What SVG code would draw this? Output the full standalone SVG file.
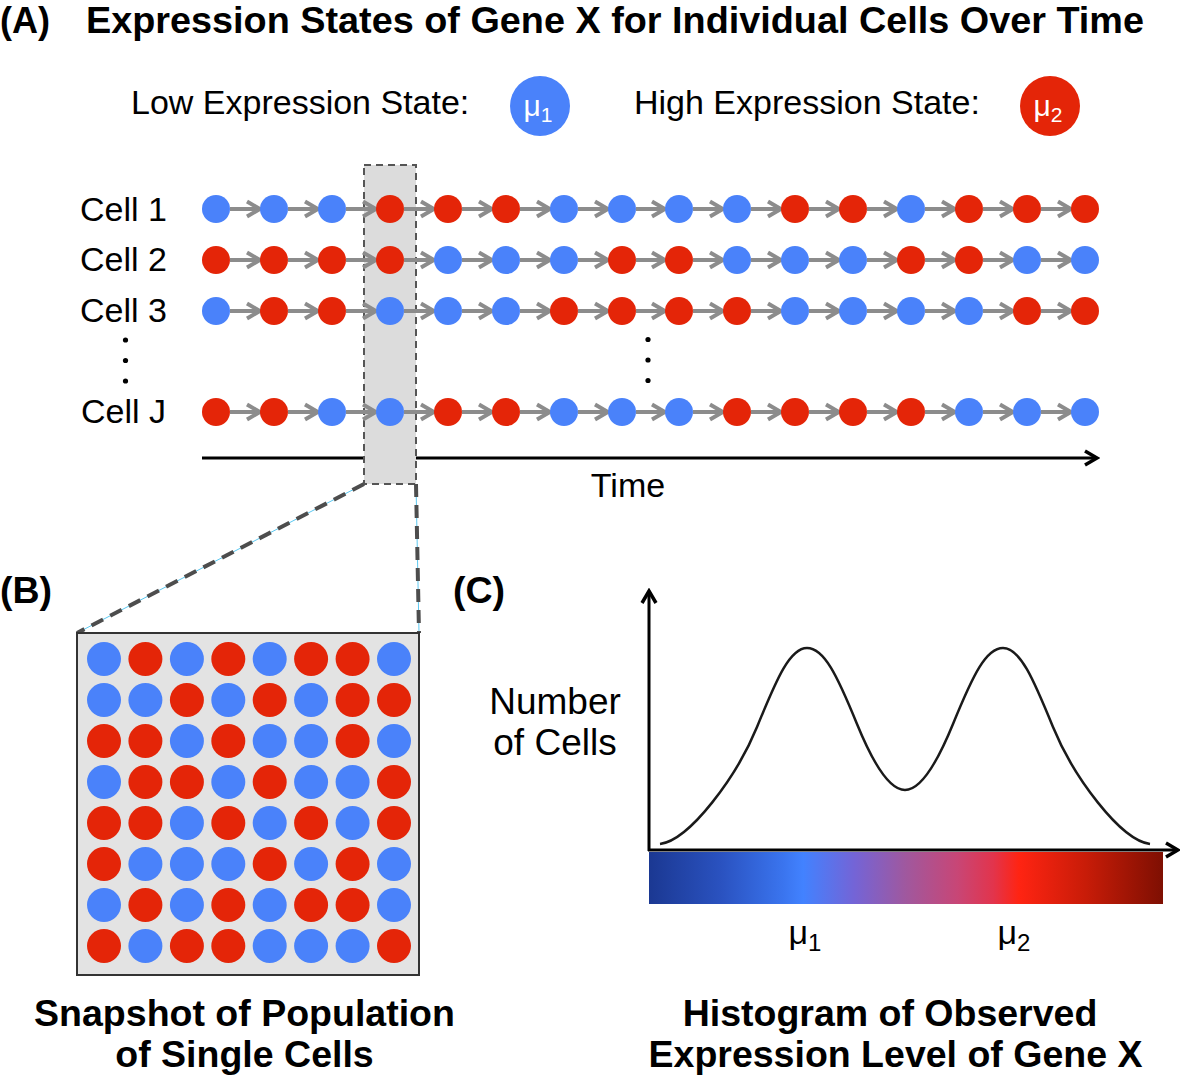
<svg xmlns="http://www.w3.org/2000/svg" width="1180" height="1076" viewBox="0 0 1180 1076">
<style>
text{font-family:"Liberation Sans",Arial,sans-serif;fill:#000}
.bold{font-weight:bold;font-size:37.5px}
.reg{font-size:34px}
.b{fill:#4a82fa}
.r{fill:#e42508}
.arr{stroke:#8c8c8c;stroke-width:4;marker-end:url(#chev)}
.dash{stroke:#4d4d4d;stroke-width:4;stroke-dasharray:13 8;fill:none}
.cyan{stroke:#5cc8f0;stroke-width:1;fill:none}
</style>
<defs>
<marker id="chev" markerUnits="userSpaceOnUse" markerWidth="18" markerHeight="20" refX="15" refY="10" orient="auto" viewBox="0 0 18 20">
<path d="M2,2.5 L15,10 L2,17.5" fill="none" stroke="#8c8c8c" stroke-width="4"/>
</marker>
<marker id="blk" markerUnits="userSpaceOnUse" markerWidth="18" markerHeight="20" refX="15" refY="10" orient="auto" viewBox="0 0 18 20">
<path d="M3,3 L15,10 L3,17" fill="none" stroke="#000" stroke-width="3.5"/>
</marker>
<linearGradient id="grad" x1="0" y1="0" x2="1" y2="0">
<stop offset="0" stop-color="#1b3892"/>
<stop offset="0.14" stop-color="#2a52c0"/>
<stop offset="0.26" stop-color="#3a74ee"/>
<stop offset="0.3" stop-color="#4282ff"/>
<stop offset="0.4" stop-color="#7464d6"/>
<stop offset="0.5" stop-color="#a0589e"/>
<stop offset="0.6" stop-color="#c84676"/>
<stop offset="0.67" stop-color="#e2344c"/>
<stop offset="0.72" stop-color="#ff2412"/>
<stop offset="0.85" stop-color="#c81c08"/>
<stop offset="1" stop-color="#7e0f02"/>
</linearGradient>
</defs>

<g id="title-A">
<text class="bold" x="0" y="33" style="font-size:36px">(A)</text>
<text class="bold" x="86" y="33" style="font-size:36px" textLength="1058" lengthAdjust="spacingAndGlyphs">Expression States of Gene X for Individual Cells Over Time</text>
</g>

<g id="legend-low">
<text class="reg" x="131" y="114">Low Expression State:</text>
<circle class="b" cx="540" cy="106" r="30"/>
<text x="538" y="116" text-anchor="middle" style="font-size:30px;fill:#fff">μ<tspan style="font-size:21px;fill:#fff" dy="6">1</tspan></text>
</g>
<g id="legend-high">
<text class="reg" x="634" y="114">High Expression State:</text>
<circle class="r" cx="1050" cy="106" r="30"/>
<text x="1048" y="116" text-anchor="middle" style="font-size:30px;fill:#fff">μ<tspan style="font-size:21px;fill:#fff" dy="6">2</tspan></text>
</g>

<g id="time-axis">
<line x1="202" y1="458" x2="1097" y2="458" stroke="#000" stroke-width="3" marker-end="url(#blk)"/>
<text class="reg" x="628" y="497" text-anchor="middle">Time</text>
</g>

<g id="snapshot-window">
<rect x="364" y="165" width="52" height="319" fill="#dcdcdc" stroke="#555" stroke-width="2" stroke-dasharray="7 5"/>
</g>

<g id="cell-labels">
<text class="reg" x="80" y="221">Cell 1</text>
<text class="reg" x="80" y="271">Cell 2</text>
<text class="reg" x="80" y="322">Cell 3</text>
<text class="reg" x="81" y="423">Cell J</text>
<circle cx="125.5" cy="340" r="2.6" fill="#000"/>
<circle cx="125.5" cy="360.5" r="2.6" fill="#000"/>
<circle cx="125.5" cy="381" r="2.6" fill="#000"/>
<circle cx="648" cy="339.5" r="2.6" fill="#000"/>
<circle cx="648" cy="360" r="2.6" fill="#000"/>
<circle cx="648" cy="380.5" r="2.6" fill="#000"/>
</g>

<g id="connectors">
<g id="arrows-cell1">
<line class="arr" x1="230" y1="209" x2="260" y2="209"/><line class="arr" x1="288" y1="209" x2="318" y2="209"/><line class="arr" x1="346" y1="209" x2="376" y2="209"/><line class="arr" x1="404" y1="209" x2="434" y2="209"/><line class="arr" x1="462" y1="209" x2="492" y2="209"/><line class="arr" x1="520" y1="209" x2="550" y2="209"/><line class="arr" x1="578" y1="209" x2="608" y2="209"/><line class="arr" x1="636" y1="209" x2="665" y2="209"/><line class="arr" x1="693" y1="209" x2="723" y2="209"/><line class="arr" x1="751" y1="209" x2="781" y2="209"/><line class="arr" x1="809" y1="209" x2="839" y2="209"/><line class="arr" x1="867" y1="209" x2="897" y2="209"/><line class="arr" x1="925" y1="209" x2="955" y2="209"/><line class="arr" x1="983" y1="209" x2="1013" y2="209"/><line class="arr" x1="1041" y1="209" x2="1071" y2="209"/>
</g>
<g id="arrows-cell2">
<line class="arr" x1="230" y1="260" x2="260" y2="260"/><line class="arr" x1="288" y1="260" x2="318" y2="260"/><line class="arr" x1="346" y1="260" x2="376" y2="260"/><line class="arr" x1="404" y1="260" x2="434" y2="260"/><line class="arr" x1="462" y1="260" x2="492" y2="260"/><line class="arr" x1="520" y1="260" x2="550" y2="260"/><line class="arr" x1="578" y1="260" x2="608" y2="260"/><line class="arr" x1="636" y1="260" x2="665" y2="260"/><line class="arr" x1="693" y1="260" x2="723" y2="260"/><line class="arr" x1="751" y1="260" x2="781" y2="260"/><line class="arr" x1="809" y1="260" x2="839" y2="260"/><line class="arr" x1="867" y1="260" x2="897" y2="260"/><line class="arr" x1="925" y1="260" x2="955" y2="260"/><line class="arr" x1="983" y1="260" x2="1013" y2="260"/><line class="arr" x1="1041" y1="260" x2="1071" y2="260"/>
</g>
<g id="arrows-cell3">
<line class="arr" x1="230" y1="311" x2="260" y2="311"/><line class="arr" x1="288" y1="311" x2="318" y2="311"/><line class="arr" x1="346" y1="311" x2="376" y2="311"/><line class="arr" x1="404" y1="311" x2="434" y2="311"/><line class="arr" x1="462" y1="311" x2="492" y2="311"/><line class="arr" x1="520" y1="311" x2="550" y2="311"/><line class="arr" x1="578" y1="311" x2="608" y2="311"/><line class="arr" x1="636" y1="311" x2="665" y2="311"/><line class="arr" x1="693" y1="311" x2="723" y2="311"/><line class="arr" x1="751" y1="311" x2="781" y2="311"/><line class="arr" x1="809" y1="311" x2="839" y2="311"/><line class="arr" x1="867" y1="311" x2="897" y2="311"/><line class="arr" x1="925" y1="311" x2="955" y2="311"/><line class="arr" x1="983" y1="311" x2="1013" y2="311"/><line class="arr" x1="1041" y1="311" x2="1071" y2="311"/>
</g>
<g id="arrows-cellJ">
<line class="arr" x1="230" y1="412" x2="260" y2="412"/><line class="arr" x1="288" y1="412" x2="318" y2="412"/><line class="arr" x1="346" y1="412" x2="376" y2="412"/><line class="arr" x1="404" y1="412" x2="434" y2="412"/><line class="arr" x1="462" y1="412" x2="492" y2="412"/><line class="arr" x1="520" y1="412" x2="550" y2="412"/><line class="arr" x1="578" y1="412" x2="608" y2="412"/><line class="arr" x1="636" y1="412" x2="665" y2="412"/><line class="arr" x1="693" y1="412" x2="723" y2="412"/><line class="arr" x1="751" y1="412" x2="781" y2="412"/><line class="arr" x1="809" y1="412" x2="839" y2="412"/><line class="arr" x1="867" y1="412" x2="897" y2="412"/><line class="arr" x1="925" y1="412" x2="955" y2="412"/><line class="arr" x1="983" y1="412" x2="1013" y2="412"/><line class="arr" x1="1041" y1="412" x2="1071" y2="412"/>
</g>
<g id="zoom-lines">
<line class="cyan" x1="364" y1="484" x2="77" y2="633"/>
<line class="cyan" x1="416" y1="484" x2="419" y2="633"/>
<line class="dash" x1="364" y1="484" x2="77" y2="633"/>
<line class="dash" x1="416" y1="484" x2="419" y2="633"/>
</g>
</g>

<g id="cell1">
<circle class="b" cx="216" cy="209" r="14"/><circle class="b" cx="274" cy="209" r="14"/><circle class="b" cx="332" cy="209" r="14"/><circle class="r" cx="390" cy="209" r="14"/><circle class="r" cx="448" cy="209" r="14"/><circle class="r" cx="506" cy="209" r="14"/><circle class="b" cx="564" cy="209" r="14"/><circle class="b" cx="622" cy="209" r="14"/><circle class="b" cx="679" cy="209" r="14"/><circle class="b" cx="737" cy="209" r="14"/><circle class="r" cx="795" cy="209" r="14"/><circle class="r" cx="853" cy="209" r="14"/><circle class="b" cx="911" cy="209" r="14"/><circle class="r" cx="969" cy="209" r="14"/><circle class="r" cx="1027" cy="209" r="14"/><circle class="r" cx="1085" cy="209" r="14"/>
</g>
<g id="cell2">
<circle class="r" cx="216" cy="260" r="14"/><circle class="r" cx="274" cy="260" r="14"/><circle class="r" cx="332" cy="260" r="14"/><circle class="r" cx="390" cy="260" r="14"/><circle class="b" cx="448" cy="260" r="14"/><circle class="b" cx="506" cy="260" r="14"/><circle class="b" cx="564" cy="260" r="14"/><circle class="r" cx="622" cy="260" r="14"/><circle class="r" cx="679" cy="260" r="14"/><circle class="b" cx="737" cy="260" r="14"/><circle class="b" cx="795" cy="260" r="14"/><circle class="b" cx="853" cy="260" r="14"/><circle class="r" cx="911" cy="260" r="14"/><circle class="r" cx="969" cy="260" r="14"/><circle class="b" cx="1027" cy="260" r="14"/><circle class="b" cx="1085" cy="260" r="14"/>
</g>
<g id="cell3">
<circle class="b" cx="216" cy="311" r="14"/><circle class="r" cx="274" cy="311" r="14"/><circle class="r" cx="332" cy="311" r="14"/><circle class="b" cx="390" cy="311" r="14"/><circle class="b" cx="448" cy="311" r="14"/><circle class="b" cx="506" cy="311" r="14"/><circle class="r" cx="564" cy="311" r="14"/><circle class="r" cx="622" cy="311" r="14"/><circle class="r" cx="679" cy="311" r="14"/><circle class="r" cx="737" cy="311" r="14"/><circle class="b" cx="795" cy="311" r="14"/><circle class="b" cx="853" cy="311" r="14"/><circle class="b" cx="911" cy="311" r="14"/><circle class="b" cx="969" cy="311" r="14"/><circle class="r" cx="1027" cy="311" r="14"/><circle class="r" cx="1085" cy="311" r="14"/>
</g>
<g id="cellJ">
<circle class="r" cx="216" cy="412" r="14"/><circle class="r" cx="274" cy="412" r="14"/><circle class="b" cx="332" cy="412" r="14"/><circle class="b" cx="390" cy="412" r="14"/><circle class="r" cx="448" cy="412" r="14"/><circle class="r" cx="506" cy="412" r="14"/><circle class="b" cx="564" cy="412" r="14"/><circle class="b" cx="622" cy="412" r="14"/><circle class="b" cx="679" cy="412" r="14"/><circle class="r" cx="737" cy="412" r="14"/><circle class="r" cx="795" cy="412" r="14"/><circle class="r" cx="853" cy="412" r="14"/><circle class="r" cx="911" cy="412" r="14"/><circle class="b" cx="969" cy="412" r="14"/><circle class="b" cx="1027" cy="412" r="14"/><circle class="b" cx="1085" cy="412" r="14"/>
</g>

<g id="panel-B">
<text class="bold" x="0" y="603">(B)</text>
<rect x="77" y="633" width="342" height="342" fill="#e3e3e3" stroke="#333" stroke-width="2"/>
<g id="grid-row1"><circle class="b" cx="104" cy="659" r="17"/><circle class="r" cx="145.4" cy="659" r="17"/><circle class="b" cx="186.9" cy="659" r="17"/><circle class="r" cx="228.3" cy="659" r="17"/><circle class="b" cx="269.7" cy="659" r="17"/><circle class="r" cx="311.1" cy="659" r="17"/><circle class="r" cx="352.6" cy="659" r="17"/><circle class="b" cx="394" cy="659" r="17"/></g>
<g id="grid-row2"><circle class="b" cx="104" cy="700" r="17"/><circle class="b" cx="145.4" cy="700" r="17"/><circle class="r" cx="186.9" cy="700" r="17"/><circle class="b" cx="228.3" cy="700" r="17"/><circle class="r" cx="269.7" cy="700" r="17"/><circle class="b" cx="311.1" cy="700" r="17"/><circle class="r" cx="352.6" cy="700" r="17"/><circle class="r" cx="394" cy="700" r="17"/></g>
<g id="grid-row3"><circle class="r" cx="104" cy="741" r="17"/><circle class="r" cx="145.4" cy="741" r="17"/><circle class="b" cx="186.9" cy="741" r="17"/><circle class="r" cx="228.3" cy="741" r="17"/><circle class="b" cx="269.7" cy="741" r="17"/><circle class="b" cx="311.1" cy="741" r="17"/><circle class="r" cx="352.6" cy="741" r="17"/><circle class="b" cx="394" cy="741" r="17"/></g>
<g id="grid-row4"><circle class="b" cx="104" cy="782" r="17"/><circle class="r" cx="145.4" cy="782" r="17"/><circle class="r" cx="186.9" cy="782" r="17"/><circle class="b" cx="228.3" cy="782" r="17"/><circle class="r" cx="269.7" cy="782" r="17"/><circle class="b" cx="311.1" cy="782" r="17"/><circle class="b" cx="352.6" cy="782" r="17"/><circle class="r" cx="394" cy="782" r="17"/></g>
<g id="grid-row5"><circle class="r" cx="104" cy="823" r="17"/><circle class="r" cx="145.4" cy="823" r="17"/><circle class="b" cx="186.9" cy="823" r="17"/><circle class="r" cx="228.3" cy="823" r="17"/><circle class="b" cx="269.7" cy="823" r="17"/><circle class="r" cx="311.1" cy="823" r="17"/><circle class="b" cx="352.6" cy="823" r="17"/><circle class="r" cx="394" cy="823" r="17"/></g>
<g id="grid-row6"><circle class="r" cx="104" cy="864" r="17"/><circle class="b" cx="145.4" cy="864" r="17"/><circle class="b" cx="186.9" cy="864" r="17"/><circle class="b" cx="228.3" cy="864" r="17"/><circle class="r" cx="269.7" cy="864" r="17"/><circle class="b" cx="311.1" cy="864" r="17"/><circle class="r" cx="352.6" cy="864" r="17"/><circle class="b" cx="394" cy="864" r="17"/></g>
<g id="grid-row7"><circle class="b" cx="104" cy="905" r="17"/><circle class="r" cx="145.4" cy="905" r="17"/><circle class="b" cx="186.9" cy="905" r="17"/><circle class="r" cx="228.3" cy="905" r="17"/><circle class="b" cx="269.7" cy="905" r="17"/><circle class="r" cx="311.1" cy="905" r="17"/><circle class="r" cx="352.6" cy="905" r="17"/><circle class="b" cx="394" cy="905" r="17"/></g>
<g id="grid-row8"><circle class="r" cx="104" cy="946" r="17"/><circle class="b" cx="145.4" cy="946" r="17"/><circle class="r" cx="186.9" cy="946" r="17"/><circle class="r" cx="228.3" cy="946" r="17"/><circle class="b" cx="269.7" cy="946" r="17"/><circle class="b" cx="311.1" cy="946" r="17"/><circle class="b" cx="352.6" cy="946" r="17"/><circle class="r" cx="394" cy="946" r="17"/></g>
<text class="bold" x="244.5" y="1026" text-anchor="middle">Snapshot of Population</text>
<text class="bold" x="244.5" y="1067" text-anchor="middle">of Single Cells</text>
</g>

<g id="panel-C">
<text class="bold" x="453" y="603">(C)</text>
<text x="555" y="714" text-anchor="middle" style="font-size:37px">Number</text>
<text x="555" y="755" text-anchor="middle" style="font-size:37px">of Cells</text>
<rect x="649" y="852" width="514" height="52" fill="url(#grad)"/>
<line x1="649" y1="851" x2="649" y2="591" stroke="#000" stroke-width="3" marker-end="url(#blk)"/>
<line x1="648" y1="850" x2="1178" y2="850" stroke="#000" stroke-width="3" marker-end="url(#blk)"/>
<path d="M660,844 C690,840 737,776 757,727 C777,678 790,648 807,648 C824,648 837,675 857,724 C877,773 893,790 905,790 C917,790 933,773 953,724 C973,675 986,648 1003,648 C1020,648 1033,678 1053,727 C1073,776 1120,840 1150,844" fill="none" stroke="#1a1a1a" stroke-width="2.5"/>
<text x="805" y="944" text-anchor="middle" style="font-size:34px">μ<tspan style="font-size:24px" dy="7">1</tspan></text>
<text x="1014" y="944" text-anchor="middle" style="font-size:34px">μ<tspan style="font-size:24px" dy="7">2</tspan></text>
<text class="bold" x="890" y="1026" text-anchor="middle">Histogram of Observed</text>
<text class="bold" x="895.5" y="1067" text-anchor="middle">Expression Level of Gene X</text>
</g>
</svg>
